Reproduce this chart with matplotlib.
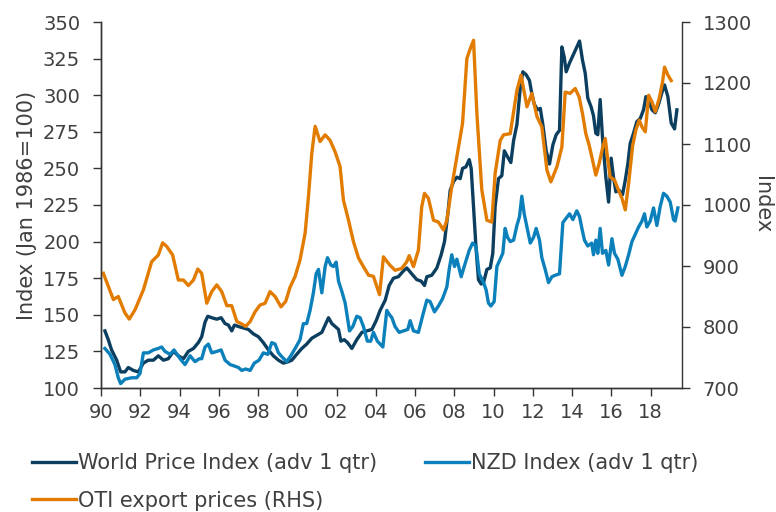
import matplotlib
matplotlib.use('Agg')
import matplotlib.pyplot as plt

# World Price Index (adv 1 qtr), LHS
wpi_year = [1990.2, 1990.37, 1990.54, 1990.8, 1991.0, 1991.22, 1991.39, 1991.65, 1991.9, 1992.16,
            1992.41, 1992.67, 1992.92, 1993.18, 1993.43, 1993.69, 1993.94, 1994.2, 1994.45, 1994.71,
            1994.96, 1995.13, 1995.3, 1995.44, 1995.64, 1995.9, 1996.12, 1996.32, 1996.49, 1996.66,
            1996.8, 1997.0, 1997.25, 1997.51, 1997.76, 1998.02, 1998.27, 1998.53, 1998.78, 1999.04,
            1999.29, 1999.55, 1999.72, 1999.97, 2000.23, 2000.48, 2000.74, 2001.0, 2001.25, 2001.42,
            2001.59, 2001.76, 2001.93, 2002.1, 2002.22, 2002.39, 2002.56, 2002.78, 2003.03, 2003.29,
            2003.54, 2003.8, 2004.02, 2004.22, 2004.48, 2004.68, 2004.9, 2005.15, 2005.41, 2005.58,
            2005.83, 2006.09, 2006.31, 2006.48, 2006.6, 2006.85, 2007.11, 2007.33, 2007.5, 2007.67,
            2007.79, 2007.96, 2008.13, 2008.3, 2008.42, 2008.59, 2008.76, 2008.86, 2008.98, 2009.1,
            2009.23, 2009.37, 2009.49, 2009.66, 2009.83, 2009.96, 2010.08, 2010.25, 2010.42, 2010.55,
            2010.71, 2010.88, 2011.02, 2011.19, 2011.36, 2011.49, 2011.66, 2011.83, 2011.95, 2012.07,
            2012.24, 2012.38, 2012.51, 2012.68, 2012.85, 2013.02, 2013.19, 2013.36, 2013.48, 2013.6,
            2013.7, 2013.87, 2014.04, 2014.21, 2014.38, 2014.53, 2014.67, 2014.8, 2014.97, 2015.09,
            2015.21, 2015.31, 2015.43, 2015.55, 2015.72, 2015.86, 2015.99, 2016.11, 2016.23, 2016.4,
            2016.57, 2016.71, 2016.84, 2016.96, 2017.13, 2017.3, 2017.47, 2017.64, 2017.76, 2017.9,
            2018.07, 2018.24, 2018.41, 2018.58, 2018.71, 2018.88, 2019.05, 2019.22, 2019.34]
wpi = [139, 133, 126, 119, 111, 111, 114, 112, 111, 117,
       119, 119, 122, 119, 120, 125, 122, 120, 125, 127,
       131, 135, 145, 149, 148, 147, 148, 144, 143, 139,
       143, 142, 141, 140, 137, 135, 131, 126, 122, 119,
       117, 118, 119, 123, 127, 130, 134, 136, 138, 143,
       148, 144, 142, 140, 132, 133, 131, 127, 133, 138,
       139, 140, 146, 153, 160, 170, 175, 176, 180, 182,
       178, 174, 173, 170, 176, 177, 182, 191, 200, 219,
       235, 241, 244, 243, 250, 251, 256, 250, 224, 197,
       174, 171, 172, 181, 182, 192, 224, 243, 245, 262,
       258, 254, 269, 280, 305, 316, 314, 310, 301, 294,
       290, 291, 280, 262, 253, 266, 273, 276, 333, 326,
       316, 322, 327, 332, 337, 324, 315, 298, 292, 286,
       274, 273, 297, 271, 244, 227, 257, 244, 234, 235,
       232, 242, 253, 267, 274, 282, 284, 290, 299, 296,
       290, 288, 294, 302, 307, 299, 281, 277, 290]

# NZD Index (adv 1 qtr), LHS
nzd_year = [1990.2, 1990.46, 1990.71, 1990.88, 1991.0, 1991.22, 1991.56, 1991.82, 1991.99, 1992.16,
            1992.41, 1992.67, 1992.92, 1993.09, 1993.26, 1993.52, 1993.72, 1994.03, 1994.28, 1994.54,
            1994.79, 1995.01, 1995.13, 1995.3, 1995.47, 1995.64, 1995.9, 1996.12, 1996.32, 1996.58,
            1996.8, 1997.0, 1997.17, 1997.37, 1997.6, 1997.81, 1998.05, 1998.27, 1998.5, 1998.7,
            1998.87, 1999.04, 1999.24, 1999.46, 1999.67, 1999.89, 2000.14, 2000.31, 2000.48, 2000.65,
            2000.82, 2000.96, 2001.08, 2001.25, 2001.42, 2001.54, 2001.71, 2001.84, 2001.98, 2002.1,
            2002.27, 2002.44, 2002.66, 2002.83, 2003.03, 2003.2, 2003.37, 2003.57, 2003.74, 2003.88,
            2004.08, 2004.36, 2004.56, 2004.7, 2004.82, 2004.98, 2005.19, 2005.41, 2005.63, 2005.75,
            2005.92, 2006.17, 2006.38, 2006.6, 2006.77, 2006.99, 2007.19, 2007.4, 2007.62, 2007.75,
            2007.87, 2008.01, 2008.13, 2008.35, 2008.55, 2008.76, 2008.93, 2009.1, 2009.27, 2009.49,
            2009.62, 2009.74, 2009.86, 2010.03, 2010.17, 2010.34, 2010.47, 2010.59, 2010.71, 2010.85,
            2011.02, 2011.19, 2011.32, 2011.44, 2011.56, 2011.7, 2011.87, 2012.04, 2012.17, 2012.34,
            2012.46, 2012.63, 2012.8, 2012.97, 2013.14, 2013.36, 2013.53, 2013.7, 2013.87, 2014.04,
            2014.24, 2014.38, 2014.5, 2014.63, 2014.8, 2015.0, 2015.09, 2015.21, 2015.31, 2015.43,
            2015.55, 2015.72, 2015.86, 2016.03, 2016.16, 2016.33, 2016.54, 2016.71, 2016.88, 2017.05,
            2017.22, 2017.39, 2017.56, 2017.69, 2017.81, 2017.98, 2018.15, 2018.32, 2018.49, 2018.66,
            2018.83, 2019.0, 2019.17, 2019.25, 2019.39]
nzd = [127, 123, 116, 107, 103, 106, 107, 107, 110, 124,
       124, 126, 127, 128, 125, 123, 126, 120, 116, 122,
       118, 120, 120, 128, 130, 124, 125, 126, 119, 116,
       115, 114, 112, 113, 112, 117, 119, 124, 123, 131,
       130, 124, 121, 118, 122, 127, 133, 144, 144, 153,
       165, 178, 181, 165, 183, 189, 184, 183, 186, 173,
       166, 158, 139, 142, 149, 148, 142, 132, 132, 138,
       132, 128, 153, 150, 148, 142, 138, 139, 140, 146,
       139, 138, 149, 160, 159, 152, 156, 161, 169, 182,
       191, 183, 188, 176, 185, 194, 199, 197, 178, 172,
       167, 158, 156, 159, 183, 188, 192, 209, 203, 200,
       201, 211, 217, 231, 219, 210, 199, 203, 209, 201,
       189, 181, 172, 176, 177, 178, 213, 216, 219, 215,
       221, 217, 209, 201, 197, 199, 191, 201, 192, 209,
       192, 194, 184, 202, 192, 188, 177, 183, 191, 200,
       205, 210, 214, 219, 210, 214, 223, 211, 224, 233,
       231, 227, 215, 214, 223]

# OTI export prices, RHS
oti_year = [1990.12, 1990.63, 1990.88, 1991.22, 1991.44, 1991.73, 1992.16, 1992.58, 1992.92, 1993.14,
            1993.35, 1993.65, 1993.94, 1994.2, 1994.45, 1994.71, 1994.93, 1995.13, 1995.39, 1995.64,
            1995.9, 1996.15, 1996.41, 1996.66, 1996.92, 1997.17, 1997.37, 1997.6, 1997.85, 1998.1,
            1998.36, 1998.61, 1998.87, 1999.17, 1999.41, 1999.63, 1999.89, 2000.14, 2000.4, 2000.57,
            2000.74, 2000.91, 2001.16, 2001.42, 2001.67, 2001.93, 2002.18, 2002.35, 2002.61, 2002.86,
            2003.12, 2003.37, 2003.63, 2003.88, 2004.19, 2004.39, 2004.7, 2004.98, 2005.32, 2005.58,
            2005.7, 2005.92, 2006.17, 2006.34, 2006.48, 2006.68, 2006.94, 2007.19, 2007.45, 2007.62,
            2007.87, 2008.13, 2008.42, 2008.64, 2008.81, 2008.98, 2009.15, 2009.4, 2009.66, 2009.91,
            2010.08, 2010.34, 2010.51, 2010.85, 2011.19, 2011.4, 2011.7, 2011.95, 2012.21, 2012.46,
            2012.72, 2012.92, 2013.23, 2013.48, 2013.65, 2013.9, 2014.16, 2014.36, 2014.53, 2014.7,
            2014.87, 2015.04, 2015.21, 2015.38, 2015.55, 2015.69, 2015.82, 2015.94, 2016.16, 2016.33,
            2016.54, 2016.71, 2016.88, 2017.08, 2017.25, 2017.42, 2017.56, 2017.73, 2017.9, 2018.07,
            2018.24, 2018.44, 2018.61, 2018.71, 2018.88, 2019.05]
oti = [888, 845, 850, 823, 813, 828, 861, 907, 918, 938,
       932, 918, 877, 877, 868, 877, 895, 888, 839, 858,
       869, 858, 835, 835, 809, 805, 801, 809, 825, 836,
       839, 858, 850, 833, 842, 865, 883, 910, 954, 1014,
       1085, 1129, 1104, 1115, 1106, 1087, 1063, 1008, 975, 940,
       913, 899, 885, 883, 853, 915, 902, 893, 896, 907,
       917, 899, 926, 997, 1019, 1011, 975, 972, 959, 975,
       1030, 1079, 1134, 1240, 1256, 1270, 1150, 1025, 975, 972,
       1052, 1106, 1115, 1117, 1188, 1213, 1161, 1183, 1145, 1128,
       1057, 1038, 1063, 1095, 1185, 1183, 1191, 1177, 1150, 1117,
       1098, 1074, 1049, 1068, 1093, 1109, 1074, 1046, 1041, 1027,
       1011, 992, 1035, 1096, 1123, 1139, 1128, 1120, 1180, 1169,
       1153, 1175, 1202, 1226, 1213, 1204]

x_ticks = list(range(1990, 2019, 2))
x_labels = [f'{y % 100:02d}' for y in x_ticks]

txt = '#404040'
plt.rcParams['font.family'] = 'DejaVu Sans'

fig = plt.figure(figsize=(7.76, 5.12), dpi=100)
ax = fig.add_axes([101 / 776, 1 - 388 / 512, 581 / 776, 366 / 512])
ax2 = ax.twinx()

l1, = ax.plot(wpi_year, wpi, color='#0c3f5f', lw=2.4, label='World Price Index (adv 1 qtr)')
l2, = ax.plot(nzd_year, nzd, color='#0b80ba', lw=2.4, label='NZD Index (adv 1 qtr)')
l3, = ax2.plot(oti_year, oti, color='#e27c00', lw=2.4, label='OTI export prices (RHS)')

ax.set_xlim(1990, 2019.6)
ax.set_ylim(100, 350)
ax.set_yticks(range(100, 351, 25))
ax2.set_ylim(700, 1300)
ax2.set_yticks(range(700, 1301, 100))
ax.set_xticks(x_ticks)
ax.set_xticklabels(x_labels)

for a in (ax, ax2):
    a.spines['top'].set_visible(False)
    for s in a.spines.values():
        s.set_color('#333333')
        s.set_linewidth(1.0)
    a.tick_params(colors='#333333', labelcolor=txt, labelsize=14, length=6, width=1, pad=9)
ax.tick_params(axis='x', pad=5)
ax.spines['right'].set_visible(False)

ax.set_ylabel('Index (Jan 1986=100)', fontsize=15, color=txt, labelpad=4)
ax2.set_ylabel('Index', fontsize=15, color=txt, rotation=-90, labelpad=14)

fig.legend(handles=[l1, l3, l2], ncol=2, loc='upper left', bbox_to_anchor=(32 / 776, 1 - 453 / 512),
           frameon=False, fontsize=15, labelcolor=txt, handlelength=2.1, handletextpad=0.1,
           columnspacing=2.3, labelspacing=0.85, borderpad=0, borderaxespad=0)

fig.savefig('out.png', dpi=100)
